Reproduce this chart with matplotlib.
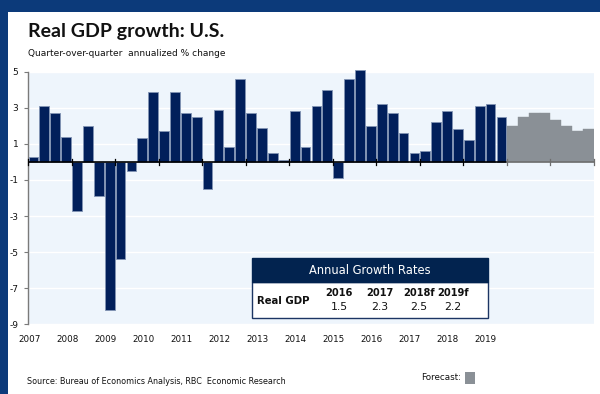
import numpy as np
import matplotlib
matplotlib.use("Agg")
import matplotlib.pyplot as plt
from matplotlib.patches import Rectangle

# Quarterly real GDP growth, q/q annualized %, 2007Q1-2017Q4 (actual)
actual = [0.3, 3.1, 2.7, 1.4,
          -2.7, 2.0, -1.9, -8.2,
          -5.4, -0.5, 1.3, 3.9,
          1.7, 3.9, 2.7, 2.5,
          -1.5, 2.9, 0.8, 4.6,
          2.7, 1.9, 0.5, 0.1,
          2.8, 0.8, 3.1, 4.0,
          -0.9, 4.6, 5.1, 2.0,
          3.2, 2.7, 1.6, 0.5,
          0.6, 2.2, 2.8, 1.8,
          1.2, 3.1, 3.2, 2.5]
# 2018Q1-2019Q4 (forecast)
forecast = [2.0, 2.5, 2.7, 2.7,
            2.3, 2.0, 1.7, 1.8]

years = ["2007", "2008", "2009", "2010", "2011", "2012", "2013",
         "2014", "2015", "2016", "2017", "2018", "2019"]
y_ticks = [5, 3, 1, -1, -3, -5, -7, -9]

table_cols = ["2016", "2017", "2018f", "2019f"]
table_vals = ["1.5", "2.3", "2.5", "2.2"]

NAVY = "#011f5b"
GREY = "#8a9096"
PLOT_BG = "#eef5fc"
FIG_BG = "#0c3a7a"

W, H = 600, 394
fig = plt.figure(figsize=(W / 100, H / 100), dpi=100)
fig.patch.set_facecolor(FIG_BG)


def fx(px):
    return px / W


def fy(py):
    return 1 - py / H


# white panel
fig.add_artist(Rectangle((fx(8), 0), 1 - fx(8), fy(12), transform=fig.transFigure,
                         facecolor="white", edgecolor="none", zorder=-5))

ax = fig.add_axes([fx(28), fy(324.3), fx(594) - fx(28), fy(71.7) - fy(324.3)])
ax.set_facecolor(PLOT_BG)

n_act = len(actual)
n_fc = len(forecast)
n_all = n_act + n_fc
x_act = np.arange(n_act) + 0.5
x_fc = np.arange(n_act, n_all) + 0.5

for y in y_ticks:
    ax.axhline(y, color="white", lw=1.0, zorder=1)

ax.bar(x_act, actual, width=0.9, color=NAVY, edgecolor="#8294b4",
       linewidth=0.6, zorder=3, clip_on=False)
ax.bar(x_fc, forecast, width=1.0, color=GREY, edgecolor=GREY,
       linewidth=0.3, zorder=3)

# zero axis with year ticks
ax.plot([0, n_act], [0, 0], color="black", lw=1.2, zorder=4)
ax.plot([n_act, n_all], [0, 0], color="#6e6e6e", lw=1.2, zorder=4)
year_edges = np.arange(0, n_all + 1, 4)
for xe in year_edges:
    c = "black" if xe < n_act else "#6e6e6e"
    ax.plot([xe, xe], [-0.17, 0.17], color=c, lw=0.9, zorder=4,
            clip_on=False)

ax.set_xlim(0, n_all)
ax.set_ylim(-9, 5)

for s in ["top", "right", "bottom"]:
    ax.spines[s].set_visible(False)
ax.spines["left"].set_color("#7a7a7a")
ax.spines["left"].set_linewidth(1.0)

ax.set_yticks(y_ticks)
ax.set_yticklabels([str(v) for v in y_ticks])
ax.tick_params(axis="y", length=3, width=0.8, color="#7a7a7a", pad=4,
               labelsize=6.5, labelcolor="#111111")

label_pos = 0.11 + 3.49 * np.arange(len(years))
ax.set_xticks(label_pos)
ax.set_xticklabels(years)
ax.tick_params(axis="x", length=0, pad=8, labelsize=6.3, labelcolor="#111111")

# titles
fig.text(fx(28), fy(31), "Real GDP growth: U.S.", fontsize=14,
         fontweight="bold", family="Lato", color="#111111",
         va="center", ha="left")
fig.text(fx(28), fy(53), "Quarter-over-quarter  annualized % change",
         fontsize=6.5, color="#111111", va="center", ha="left")

# source & forecast key
fig.text(fx(27), fy(382), "Source: Bureau of Economics Analysis, RBC  Economic Research",
         fontsize=5.8, color="#111111", va="center", ha="left")
fig.text(fx(461), fy(378), "Forecast:", fontsize=6.3, color="#111111",
         va="center", ha="right")
fig.add_artist(Rectangle((fx(465), fy(384)), fx(10), fy(372) - fy(384),
                         transform=fig.transFigure, facecolor=GREY,
                         edgecolor="none", zorder=5))

# annual growth table
bx0, bx1 = 252.3, 488.3
by0, bmid, by1 = 258.3, 282.3, 317.7
fig.add_artist(Rectangle((fx(bx0), fy(by1)), fx(bx1) - fx(bx0), fy(bmid) - fy(by1),
                         transform=fig.transFigure, facecolor="white",
                         edgecolor="#1c3563", linewidth=1.0, zorder=6))
fig.add_artist(Rectangle((fx(bx0), fy(bmid)), fx(bx1) - fx(bx0), fy(by0) - fy(bmid),
                         transform=fig.transFigure, facecolor="#02234f",
                         edgecolor="#02234f", linewidth=1.0, zorder=6))
fig.text(fx(369.5), fy(270), "Annual Growth Rates", fontsize=8.3,
         color="white", ha="center", va="center", zorder=7)
fig.text(fx(257), fy(301), "Real GDP", fontsize=7.3, fontweight="bold",
         color="#111111", ha="left", va="center", zorder=7)
col_x = [339, 380, 419, 453]
for cx, lab, val in zip(col_x, table_cols, table_vals):
    fig.text(fx(cx), fy(292.5), lab, fontsize=7.1, fontweight="bold",
             color="#111111", ha="center", va="center", zorder=7)
    fig.text(fx(cx), fy(307), val, fontsize=7.8, color="#111111",
             ha="center", va="center", zorder=7)

fig.savefig("out.png", dpi=100, facecolor=fig.get_facecolor())
